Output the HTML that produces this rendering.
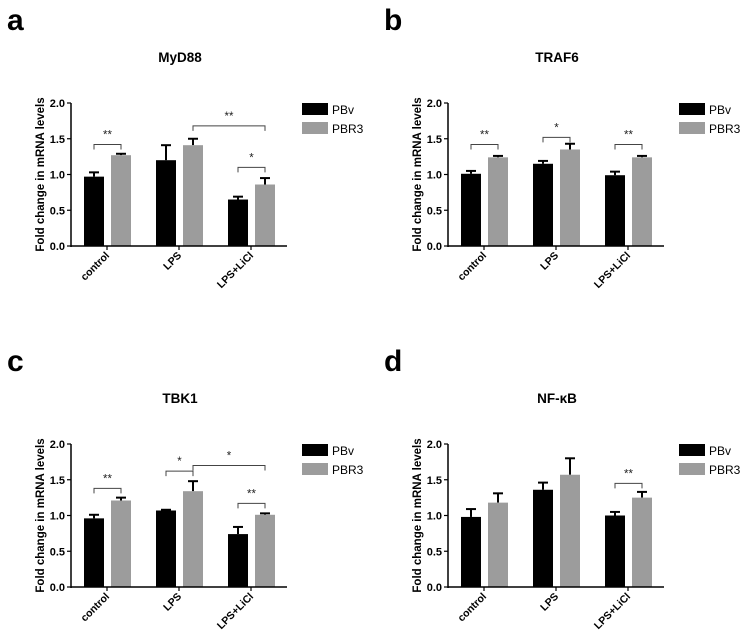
<!DOCTYPE html>
<html><head><meta charset="utf-8"><style>
html,body{margin:0;padding:0;background:#fff}
svg{display:block;font-family:"Liberation Sans",Arial,sans-serif}
</style></head><body>
<svg id="fig" width="741" height="640" viewBox="0 0 741 640"></svg>
<script>
const categories = ["control","LPS","LPS+LiCl"];
const seriesNames = ["PBv","PBR3"];
const yTicks = [0,0.5,1.0,1.5,2.0];
const yTickLabels = ["0.0","0.5","1.0","1.5","2.0"];
const panelLetters = ["a","b","c","d"];
const panelTitles = ["MyD88","TRAF6","TBK1","NF-\u03BAB"];
const pbvA = [0.97,1.20,0.65], pbvErrA = [0.06,0.21,0.04];
const pbr3A = [1.27,1.41,0.86], pbr3ErrA = [0.02,0.09,0.09];
const pbvB = [1.01,1.15,0.99], pbvErrB = [0.04,0.04,0.05];
const pbr3B = [1.24,1.35,1.24], pbr3ErrB = [0.02,0.08,0.02];
const pbvC = [0.96,1.07,0.74], pbvErrC = [0.05,0.01,0.10];
const pbr3C = [1.21,1.34,1.01], pbr3ErrC = [0.04,0.14,0.02];
const pbvD = [0.98,1.36,1.00], pbvErrD = [0.11,0.10,0.05];
const pbr3D = [1.18,1.57,1.25], pbr3ErrD = [0.13,0.23,0.08];
// significance brackets: [group1, series1, group2, series2, yLevel, label]
const sigA = [[0,0,0,1,1.42,"**"],[1,1,2,1,1.68,"**"],[2,0,2,1,1.10,"*"]];
const sigB = [[0,0,0,1,1.42,"**"],[1,0,1,1,1.52,"*"],[2,0,2,1,1.42,"**"]];
const sigC = [[0,0,0,1,1.38,"**"],[1,0,1,1,1.62,"*"],[1,1,2,1,1.70,"*"],[2,0,2,1,1.17,"**"]];
const sigD = [[2,0,2,1,1.45,"**"]];

const NS="http://www.w3.org/2000/svg";
const svg=document.getElementById('fig');
function mk(tag,attrs,parent,text){const e=document.createElementNS(NS,tag);for(const k in attrs)e.setAttribute(k,attrs[k]);if(text!==undefined)e.textContent=text;(parent||svg).appendChild(e);return e;}

const panels=[
 {dx:0,dy:0,pbv:pbvA,pbvE:pbvErrA,pbr:pbr3A,pbrE:pbr3ErrA,sig:sigA},
 {dx:377,dy:0,pbv:pbvB,pbvE:pbvErrB,pbr:pbr3B,pbrE:pbr3ErrB,sig:sigB},
 {dx:0,dy:341,pbv:pbvC,pbvE:pbvErrC,pbr:pbr3C,pbrE:pbr3ErrC,sig:sigC},
 {dx:377,dy:341,pbv:pbvD,pbvE:pbvErrD,pbr:pbr3D,pbrE:pbr3ErrD,sig:sigD}
];
const colors=["#000000","#9c9c9c"];

panels.forEach((p,pi)=>{
 const g=mk('g',{transform:`translate(${p.dx},${p.dy})`});
 
 
 const X0=71, Y0=246, Ytop=103, XR=287;
 const yS=v=>Y0-(v/2)*(Y0-Ytop);
 const gc=i=>107+i*72;
 const bx=(i,s)=>gc(i)-23+s*27;
 const BW=20;
 const letter=mk('text',{x:7,y:30,'font-size':30,'font-weight':'bold'},g,panelLetters[pi]);
 
 
 const t=mk('text',{x:180,y:62,'font-size':13.5,'font-weight':'bold','text-anchor':'middle'},g,panelTitles[pi]);
 
 
 const yt=mk('text',{transform:`translate(44,${(Y0+Ytop)/2}) rotate(-90)`,'font-size':11.5,'font-weight':'bold','text-anchor':'middle'},g,'Fold change in mRNA levels');
 
 
 [p.pbv,p.pbr].forEach((vals,s)=>{
  const errs=s===0?p.pbvE:p.pbrE;
  vals.forEach((v,i)=>{
   const x=bx(i,s);
   const ex=x+BW/2, ey=yS(v+errs[i]);
   const el=mk('line',{x1:ex,x2:ex,y1:yS(v),y2:ey,stroke:'#000','stroke-width':2},g);
   
   
   const cap=mk('line',{x1:ex-5,x2:ex+5,y1:ey,y2:ey,stroke:'#000','stroke-width':2},g);
   
   
   const r=mk('rect',{x:x,y:yS(v),width:BW,height:Y0-yS(v),fill:colors[s]},g);
   
   
  });
 });
 const ya=mk('line',{x1:X0,x2:X0,y1:Ytop,y2:Y0+1,stroke:'#000','stroke-width':1.5},g);
 
 
 const xa=mk('line',{x1:X0,x2:XR,y1:Y0,y2:Y0,stroke:'#000','stroke-width':1.5},g);
 
 
 yTicks.forEach((v,k)=>{
  mk('line',{x1:X0-4,x2:X0,y1:yS(v),y2:yS(v),stroke:'#000','stroke-width':1.2},g);
  const tl=mk('text',{x:X0-6,y:yS(v)+4,'font-size':11,'font-weight':'bold','text-anchor':'end'},g,yTickLabels[k]);
  
  
 });
 categories.forEach((c,i)=>{
  mk('line',{x1:gc(i),x2:gc(i),y1:Y0,y2:Y0+4,stroke:'#000','stroke-width':1.2},g);
  const xl=mk('text',{transform:`translate(${gc(i)+3},${Y0+10}) rotate(-45)`,'font-size':10.5,'font-weight':'bold','text-anchor':'end'},g,c);
  
  
 });
 p.sig.forEach(sg=>{
  const x1=bx(sg[0],sg[1])+BW/2, x2=bx(sg[2],sg[3])+BW/2, y=yS(sg[4]);
  const br=mk('path',{d:`M${x1},${y+5}V${y}H${x2}V${y+5}`,fill:'none',stroke:'#444','stroke-width':1},g);
  
  
  const st=mk('text',{x:(x1+x2)/2,y:y-6,'font-size':11.5,'text-anchor':'middle',fill:'#222'},g,sg[5]);
  
  
 });
 seriesNames.forEach((n,s)=>{
  const ly=103+s*19;
  const lr=mk('rect',{x:302,y:ly,width:26,height:12,fill:colors[s]},g);
  
  
  const lt=mk('text',{x:332,y:ly+11,'font-size':12},g,n);
  
  
 });
});
</script>
</body></html>
